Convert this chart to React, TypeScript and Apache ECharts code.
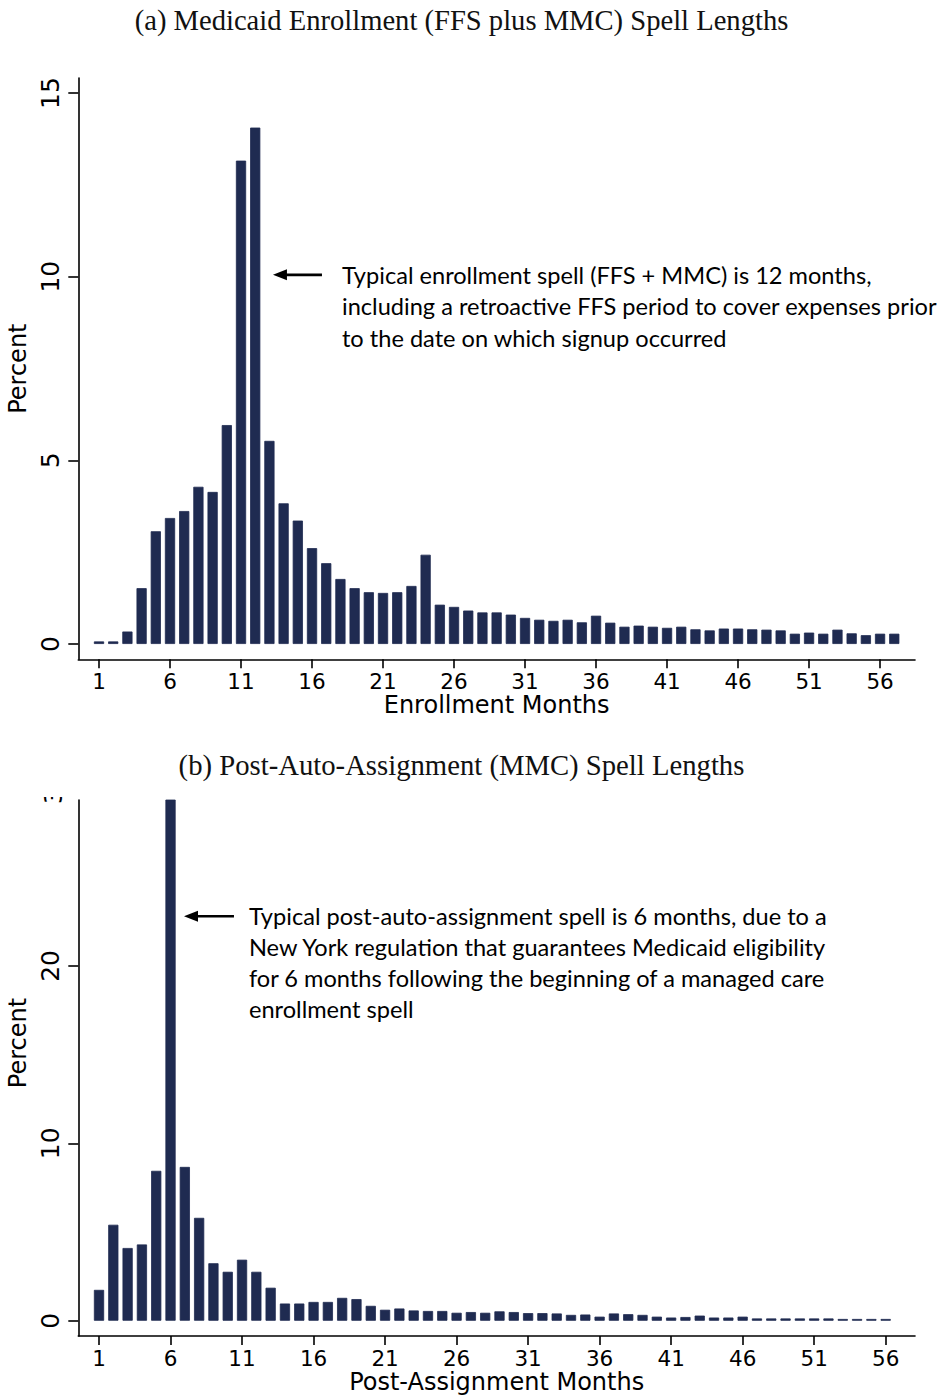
import React, { useEffect, useRef } from "react";
import * as echarts from "echarts";

// ---------- data ----------
const titleA = "(a) Medicaid Enrollment (FFS plus MMC) Spell Lengths";
const titleB = "(b) Post-Auto-Assignment (MMC) Spell Lengths";
const xNameA = "Enrollment Months";
const xNameB = "Post-Assignment Months";
const yName = "Percent";

// percent of spells by length in months (month 1, 2, 3, ...)
const enrollPct = [
  0.07, 0.07, 0.34, 1.52, 3.07, 3.43, 3.62, 4.28, 4.14, 5.96,
  13.16, 14.06, 5.53, 3.83, 3.36, 2.61, 2.2, 1.77, 1.52, 1.41,
  1.39, 1.41, 1.58, 2.43, 1.07, 1.01, 0.91, 0.86, 0.86, 0.8,
  0.71, 0.66, 0.63, 0.66, 0.59, 0.77, 0.58, 0.47, 0.5, 0.47,
  0.44, 0.47, 0.4, 0.37, 0.42, 0.42, 0.4, 0.39, 0.37, 0.28,
  0.31, 0.28, 0.39, 0.29, 0.24, 0.28, 0.28,
];

const postAssignPct = [
  1.74, 5.41, 4.1, 4.3, 8.45, 31.0, 8.67, 5.8, 3.24, 2.76,
  3.44, 2.76, 1.86, 0.97, 0.97, 1.06, 1.06, 1.29, 1.22, 0.84,
  0.62, 0.69, 0.58, 0.55, 0.55, 0.45, 0.49, 0.45, 0.53, 0.49,
  0.43, 0.43, 0.41, 0.33, 0.35, 0.23, 0.41, 0.37, 0.33, 0.23,
  0.18, 0.21, 0.29, 0.18, 0.18, 0.23, 0.13, 0.13, 0.13, 0.13,
  0.13, 0.13, 0.1, 0.1, 0.1, 0.1,
];

const xTicks = [1, 6, 11, 16, 21, 26, 31, 36, 41, 46, 51, 56];
const yTicksA = [0, 5, 10, 15];
const yTicksB = [0, 10, 20];
const hiddenTopTickB = 30;

const noteA =
  "Typical enrollment spell (FFS + MMC) is 12 months,\nincluding a retroactive FFS period to cover expenses prior\nto the date on which signup occurred";
const noteB =
  "Typical post-auto-assignment spell is 6 months, due to a\nNew York regulation that guarantees Medicaid eligibility\nfor 6 months following the beginning of a managed care\nenrollment spell";

// annotation anchor points (data coords: month, percent)
const arrowA = [13.25, 10.05];
const arrowB = [6.94, 22.8];

// ---------- styles ----------
const NAVY = "#1f2b51";
const SANS = "DejaVu Sans";
const SERIF = "Liberation Serif";
const NOTE_FONT = "Lato";
const Y_LABEL_SIZE = 25;

function xAxisCfg(gridIndex: number, name: string, min: number, max: number) {
  return {
    gridIndex,
    type: "value",
    min,
    max,
    name,
    nameLocation: "middle",
    nameGap: 32,
    nameTextStyle: { fontFamily: SANS, fontSize: 24, color: "#000" },
    axisLine: { show: true, onZero: false, lineStyle: { color: "#000", width: 1.6 } },
    axisTick: {
      show: true,
      length: 9,
      customValues: xTicks,
      lineStyle: { color: "#000", width: 1.6 },
    },
    axisLabel: {
      customValues: xTicks,
      fontFamily: SANS,
      fontSize: 21.5,
      color: "#000",
      margin: 11,
    },
    splitLine: { show: false },
  };
}

function yAxisCfg(gridIndex: number, min: number, max: number, ticks: number[], namePadding: number[]) {
  return {
    gridIndex,
    type: "value",
    min,
    max,
    name: yName,
    nameLocation: "middle",
    nameGap: 45,
    nameRotate: 90,
    nameTextStyle: { fontFamily: SANS, fontSize: 24, color: "#000", padding: namePadding },
    axisLine: { show: true, onZero: false, lineStyle: { color: "#000", width: 1.6 } },
    axisTick: {
      show: true,
      length: 10,
      customValues: ticks,
      lineStyle: { color: "#000", width: 1.6 },
    },
    axisLabel: {
      customValues: ticks,
      rotate: 90,
      fontFamily: SANS,
      fontSize: Y_LABEL_SIZE,
      color: "#000",
      margin: 15,
    },
    splitLine: { show: false },
  };
}

function barSeries(idx: number, values: number[]) {
  return {
    type: "bar",
    xAxisIndex: idx,
    yAxisIndex: idx,
    data: values.map((v, i) => [i + 1, v]),
    barWidth: 10.2,
    clip: true,
    itemStyle: { color: NAVY, borderColor: NAVY, borderWidth: 0.8 },
    silent: true,
  };
}

export default function App() {
  const ref = useRef<HTMLDivElement>(null);

  useEffect(() => {
    document.body.style.margin = "0";
    const chart = echarts.init(ref.current!, null, { renderer: "svg" });
    const option: any = {
      animation: false,
      backgroundColor: "#fff",
      textStyle: { fontFamily: SANS },
      grid: [
        { left: 78.3, top: 78, width: 836.7, height: 581.3, outerBoundsMode: "none" },
        { left: 78.3, top: 800, width: 836.7, height: 536, outerBoundsMode: "none" },
      ],
      xAxis: [xAxisCfg(0, xNameA, -0.458, 58.46), xAxisCfg(1, xNameB, -0.448, 58.05)],
      yAxis: [
        yAxisCfg(0, -0.417, 15.41, yTicksA, [0, 0, 0, 0]),
        yAxisCfg(1, -0.86, 29.35, yTicksB, [0, 0, 0, 50]),
      ],
      series: [barSeries(0, enrollPct), barSeries(1, postAssignPct)],
    };
    chart.setOption(option);

    const pA = chart.convertToPixel({ gridIndex: 0 }, arrowA) as number[];
    const pB = chart.convertToPixel({ gridIndex: 1 }, arrowB) as number[];
    const p30 = chart.convertToPixel({ gridIndex: 1 }, [0, hiddenTopTickB]) as number[];
    const gridBTop = chart.convertToPixel({ gridIndex: 1 }, [0, 29.35]) as number[];

    const arrow = (tipX: number, y: number, len: number) => [
      {
        type: "line",
        shape: { x1: tipX + 10, y1: y, x2: tipX + len, y2: y },
        style: { stroke: "#000", lineWidth: 2.6 },
        z: 50,
      },
      {
        type: "polygon",
        shape: { points: [[tipX, y], [tipX + 14, y - 5.5], [tipX + 14, y + 5.5]] },
        style: { fill: "#000" },
        z: 50,
      },
    ];

    const graphic: any[] = [
      {
        type: "text",
        x: 461.5,
        y: 20,
        z: 60,
        style: {
          text: titleA,
          fontFamily: SERIF,
          fontSize: 28.6,
          fill: "#111",
          align: "center",
          verticalAlign: "middle",
        },
      },
      // partially cropped top tick label of panel (b)
      {
        type: "text",
        x: p30[0] - 31,
        y: p30[1],
        rotation: Math.PI / 2,
        z: 40,
        style: {
          text: String(hiddenTopTickB),
          fontFamily: SANS,
          fontSize: Y_LABEL_SIZE,
          fill: "#000",
          align: "center",
          verticalAlign: "middle",
        },
      },
      {
        type: "rect",
        shape: { x: 0, y: 740, width: 941, height: gridBTop[1] - 740 - 3 },
        style: { fill: "#fff" },
        z: 45,
      },
      {
        type: "text",
        x: 461.5,
        y: 765,
        z: 60,
        style: {
          text: titleB,
          fontFamily: SERIF,
          fontSize: 28.7,
          fill: "#111",
          align: "center",
          verticalAlign: "middle",
        },
      },
      ...arrow(pA[0], pA[1], 49),
      {
        type: "text",
        x: pA[0] + 69,
        y: pA[1] - 15.75,
        z: 50,
        style: {
          text: noteA,
          fontFamily: NOTE_FONT,
          fontSize: 23.6,
          lineHeight: 31.5,
          fill: "#000",
          align: "left",
          verticalAlign: "top",
        },
      },
      ...arrow(pB[0], pB[1], 50),
      {
        type: "text",
        x: pB[0] + 65,
        y: pB[1] - 15.5,
        z: 50,
        style: {
          text: noteB,
          fontFamily: NOTE_FONT,
          fontSize: 23.6,
          lineHeight: 31,
          fill: "#000",
          align: "left",
          verticalAlign: "top",
        },
      },
    ];
    chart.setOption({ graphic });

    return () => chart.dispose();
  }, []);

  return <div ref={ref} style={{ width: 941, height: 1395 }} />;
}
